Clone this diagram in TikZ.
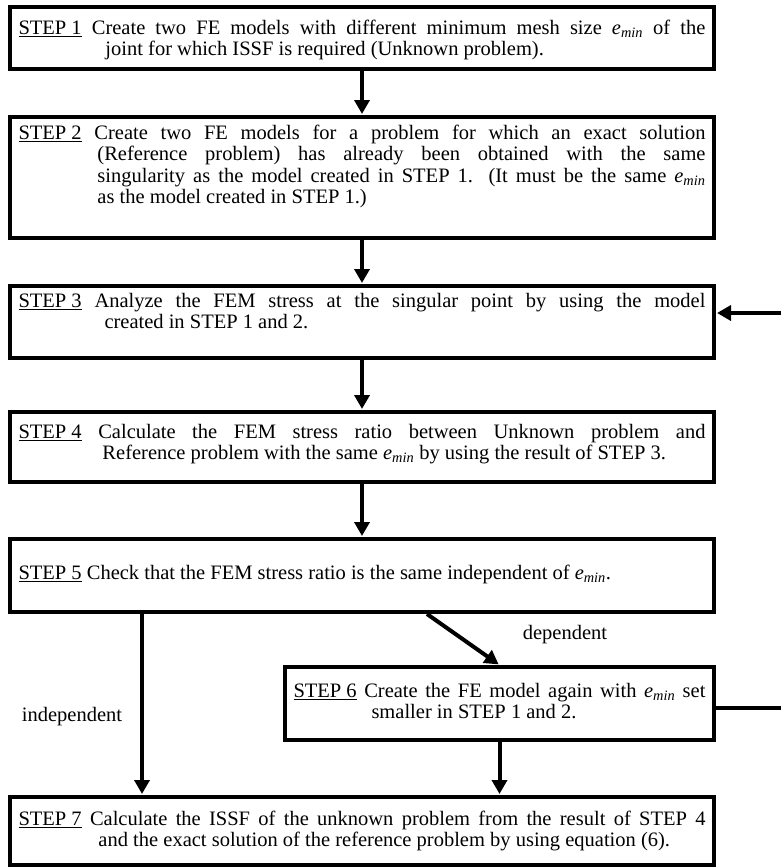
\documentclass[tikz,border=0pt]{standalone}
\usepackage{fontspec}
\setmainfont{Liberation Serif}
\usetikzlibrary{arrows.meta}

\newcommand{\emin}{\textit{e}\textsubscript{\textit{min}}}
% #1 box height, #2 text width, #3 gap above first line, #4 hanging indent, #5 text
\newcommand{\stepbody}[5]{\parbox[c][#1][t]{#2}{\vspace*{#3}\hangindent=#4\hangafter=1\noindent#5\par}}

\begin{document}
\begin{tikzpicture}[x=1pt, y=-1pt, line join=miter,
  font=\fontsize{20.5}{21.5}\selectfont,
  stepbox/.style={draw, line width=4pt, inner xsep=8.5pt, inner ysep=0pt},
  flow/.style={line width=4pt, -{Triangle[width=15pt,length=14pt]}, shorten >=1pt}]

  %% ════ step boxes (centre x, centre y) ════
  \node[stepbox] (s1) at (362,38) {\stepbody{62pt}{687pt}{13pt}{87pt}{\underline{STEP 1} Create two FE models with different minimum mesh size \emin\ of the\linebreak joint for which ISSF is required (Unknown problem).}};
  \node[stepbox] (s2) at (362,177.5) {\stepbody{121pt}{687pt}{8pt}{79pt}{\underline{STEP 2} Create two FE models for a problem for which an exact solution\linebreak (Reference problem) has already been obtained with the same\linebreak singularity as the model created in STEP 1. (It must be the same \emin\linebreak as the model created in STEP 1.)}};
  \node[stepbox] (s3) at (362,322) {\stepbody{72pt}{687pt}{7pt}{86pt}{\underline{STEP 3} Analyze the FEM stress at the singular point by using the model\linebreak created in STEP 1 and 2.}};
  \node[stepbox] (s4) at (362,447) {\stepbody{70pt}{687pt}{12pt}{84pt}{\underline{STEP 4} Calculate the FEM stress ratio between Unknown problem and\linebreak Reference problem with the same \emin\ by using the result of \mbox{STEP 3.}}};
  \node[stepbox] (s5) at (362,575.5) {\stepbody{73pt}{687pt}{26pt}{0pt}{\underline{STEP 5} Check that the FEM stress ratio is the same independent of \emin.}};
  \node[stepbox] (s6) at (499.5,703.5) {\stepbody{73pt}{412pt}{16pt}{78pt}{\underline{STEP 6} Create the FE model again with \emin\ set\linebreak smaller in STEP 1 and 2.}};
  \node[stepbox] (s7) at (362,831) {\stepbody{68pt}{687pt}{14pt}{80pt}{\underline{STEP 7} Calculate the ISSF of the unknown problem from the result of STEP 4\linebreak and the exact solution of the reference problem by using equation (6).}};

  %% ════ branch labels ════
  \node (dep) at (565,635) {dependent};
  \node (indep) at (72,717) {independent};

  %% ════ arrows ════
  \coordinate (indepx) at (142,0);
  \coordinate (depx) at (427,0);
  \draw[flow] (s1.south) -- (s2.north);
  \draw[flow] (s2.south) -- (s3.north);
  \draw[flow] (s3.south) -- (s4.north);
  \draw[flow] (s4.south) -- (s5.north);
  \draw[flow] (s5.south -| indepx) -- (s7.north -| indepx);
  \draw[flow] (s5.south -| depx) -- (s6.north);
  \draw[flow] (s6.south) -- (s7.north -| s6.south);
  % loop back: its vertical leg runs just past the right edge of the page
  \draw[flow] ([yshift=-4pt]s6.east) -- ++(70,0) |- ([yshift=9pt]s3.east);

  % fix the canvas to the reference size
  \pgfresetboundingbox
  \path[use as bounding box] (0,0) rectangle (780,868);
\end{tikzpicture}
\end{document}
